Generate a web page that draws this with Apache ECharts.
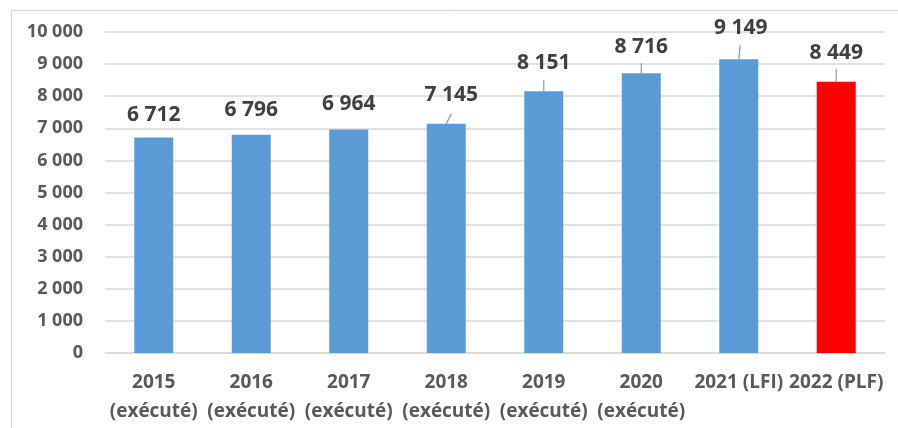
<!DOCTYPE html>
<html>
<head>
<meta charset="utf-8">
<script src="https://cdn.jsdelivr.net/npm/echarts@6/dist/echarts.min.js"></script>
<style>
html,body{margin:0;padding:0;background:#fff;}
#chart{width:898px;height:428px;}
</style>
</head>
<body>
<div id="chart"></div>
<script>
const categories = ['2015\n(exécuté)', '2016\n(exécuté)', '2017\n(exécuté)', '2018\n(exécuté)', '2019\n(exécuté)', '2020\n(exécuté)', '2021 (LFI)', '2022 (PLF)'];
const values = [6712, 6796, 6964, 7145, 8151, 8716, 9149, 8449];
const barColors = ['#5B9BD5', '#5B9BD5', '#5B9BD5', '#5B9BD5', '#5B9BD5', '#5B9BD5', '#5B9BD5', '#FF0000'];
const yTicks = { min: 0, max: 10000, interval: 1000 };

// label styling (pixel offsets, not data)
const labelDistances = [15, 17, 17, 21, 20, 18, 23, 21];
const labelDx = [0, 0, 0, 5, 0, 0, 2, 0];
const leaderLen = [0, 0, 0, 10, 11, 10, 14, 13];
const leaderDx = [0, 0, 0, 5, 0, 0, 1.5, 0];

function fmt(v) {
  return String(v).replace(/\B(?=(\d{3})+(?!\d))/g, ' ');
}

const chart = echarts.init(document.getElementById('chart'), null, { renderer: 'canvas' });
const font = '"Open Sans", sans-serif';

chart.setOption({
  animation: false,
  backgroundColor: '#ffffff',
  graphic: [{
    type: 'rect',
    left: 9, top: 8,
    shape: { width: 1000, height: 1000 },
    style: { fill: 'none', stroke: '#D9D9D9', lineWidth: 1 },
    z: -1, silent: true
  }],
  grid: { left: 105, right: 13, top: 32, bottom: 75, containLabel: false },
  xAxis: {
    type: 'category',
    data: categories,
    axisTick: { show: false },
    axisLine: { lineStyle: { color: '#D9D9D9', width: 1.5 } },
    axisLabel: {
      color: '#595959', fontFamily: font, fontWeight: 'bold', fontSize: 19,
      lineHeight: 29, margin: 15, interval: 0
    }
  },
  yAxis: {
    type: 'value',
    min: yTicks.min, max: yTicks.max, interval: yTicks.interval,
    axisLine: { show: false },
    axisTick: { show: false },
    splitLine: { lineStyle: { color: '#D9D9D9', width: 1.5 } },
    axisLabel: {
      color: '#595959', fontFamily: font, fontWeight: 'bold', fontSize: 18,
      margin: 22, formatter: v => fmt(v)
    }
  },
  series: [{
    type: 'bar',
    barWidth: 39,
    data: values.map((v, i) => ({
      value: v,
      itemStyle: { color: barColors[i] },
      label: { distance: labelDistances[i], offset: [labelDx[i], 0] }
    })),
    label: {
      show: true, position: 'top',
      color: '#404040', fontFamily: font, fontWeight: 'bold', fontSize: 21, lineHeight: 16,
      formatter: p => fmt(p.value)
    }
  }, {
    type: 'custom',
    silent: true,
    z: 5,
    data: values.map((v, i) => [i, v]),
    renderItem: function (params, api) {
      const i = params.dataIndex;
      if (!leaderLen[i]) return null;
      const p = api.coord([api.value(0), api.value(1)]);
      return {
        type: 'line',
        shape: { x1: p[0], y1: p[1], x2: p[0] + leaderDx[i], y2: p[1] - leaderLen[i] },
        style: { stroke: '#969696', lineWidth: 1.2 }
      };
    }
  }]
});
</script>
</body>
</html>
